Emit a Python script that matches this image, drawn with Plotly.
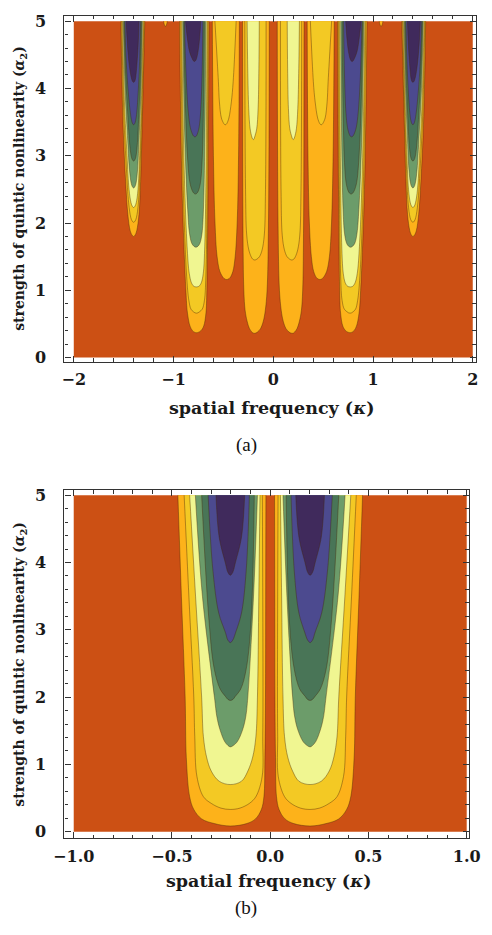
import plotly.graph_objects as go

# ---------------- data ----------------
# level colours, outermost (lowest gain contour) to innermost
LEVEL_COLORS = ["#FDB21A", "#F3C924", "#F0F691", "#6C9C6A", "#497557", "#4C4A8F", "#402A5C"]
BACKGROUND_COLOR = "#CC5014"

# plotted domain of the data (kappa, alpha2)
A_KAPPA = [-2.0, 2.0]
B_KAPPA = [-1.0, 1.0]
ALPHA = [0.0, 5.0]

# each lobe: list of contour levels (outer -> inner); each level is a list of
# rows [alpha2, kappa_left, kappa_right] from the top of the plot down to the tip.
# Lobes in panel (a) (positive-kappa side; mirrored for negative kappa)
A_LOBE_140 = [
    [[5.0, 1.288, 1.528], [3.46, 1.314, 1.506], [2.62, 1.330, 1.480], [2.13, 1.346, 1.458], [1.89, 1.368, 1.435], [1.823, 1.384, 1.417], [1.80, 1.400, 1.400]],
    [[5.0, 1.296, 1.520], [3.60, 1.318, 1.498], [2.80, 1.336, 1.472], [2.30, 1.352, 1.450], [2.08, 1.372, 1.428], [2.028, 1.386, 1.414], [2.01, 1.400, 1.400]],
    [[5.0, 1.304, 1.512], [3.80, 1.322, 1.492], [3.00, 1.340, 1.466], [2.50, 1.356, 1.446], [2.30, 1.374, 1.426], [2.248, 1.387, 1.413], [2.23, 1.400, 1.400]],
    [[5.0, 1.312, 1.504], [4.00, 1.326, 1.486], [3.30, 1.344, 1.462], [2.80, 1.360, 1.442], [2.59, 1.376, 1.424], [2.538, 1.388, 1.412], [2.52, 1.400, 1.400]],
    [[5.0, 1.320, 1.496], [4.20, 1.332, 1.480], [3.60, 1.348, 1.458], [3.15, 1.364, 1.438], [2.98, 1.378, 1.422], [2.935, 1.389, 1.411], [2.92, 1.400, 1.400]],
    [[5.0, 1.330, 1.488], [4.40, 1.340, 1.474], [3.95, 1.354, 1.454], [3.65, 1.368, 1.434], [3.52, 1.380, 1.420], [3.475, 1.390, 1.410], [3.46, 1.400, 1.400]],
    [[5.0, 1.345, 1.475], [4.60, 1.356, 1.460], [4.30, 1.370, 1.440], [4.14, 1.382, 1.420], [4.102, 1.391, 1.410], [4.09, 1.400, 1.400]],
]
A_LOBE_078 = [
    [[5.0, 0.644, 0.940], [2.50, 0.654, 0.914], [1.00, 0.666, 0.876], [0.66, 0.675, 0.860], [0.47, 0.697, 0.835], [0.40, 0.725, 0.810], [0.378, 0.748, 0.790], [0.37, 0.770, 0.770]],
    [[5.0, 0.655, 0.928], [2.50, 0.663, 0.902], [1.20, 0.676, 0.868], [0.85, 0.690, 0.846], [0.72, 0.712, 0.825], [0.68, 0.740, 0.800], [0.665, 0.755, 0.785], [0.66, 0.770, 0.770]],
    [[5.0, 0.665, 0.918], [2.80, 0.674, 0.893], [1.60, 0.688, 0.862], [1.25, 0.702, 0.842], [1.11, 0.722, 0.820], [1.06, 0.745, 0.797], [1.053, 0.758, 0.785], [1.05, 0.772, 0.772]],
    [[5.0, 0.676, 0.908], [3.20, 0.686, 0.886], [2.20, 0.700, 0.858], [1.85, 0.714, 0.840], [1.70, 0.735, 0.818], [1.655, 0.755, 0.796], [1.64, 0.775, 0.775]],
    [[5.0, 0.690, 0.898], [3.70, 0.700, 0.880], [2.90, 0.714, 0.856], [2.60, 0.730, 0.836], [2.48, 0.750, 0.812], [2.443, 0.765, 0.796], [2.43, 0.780, 0.780]],
    [[5.0, 0.705, 0.890], [4.20, 0.714, 0.874], [3.65, 0.728, 0.852], [3.42, 0.744, 0.832], [3.32, 0.762, 0.810], [3.29, 0.773, 0.797], [3.28, 0.785, 0.785]],
    [[5.0, 0.726, 0.880], [4.75, 0.738, 0.862], [4.55, 0.754, 0.840], [4.44, 0.770, 0.812], [4.41, 0.780, 0.801], [4.40, 0.790, 0.790]],
]
A_LOBE_047 = [
    [[5.0, 0.340, 0.611], [3.00, 0.348, 0.600], [2.00, 0.362, 0.584], [1.50, 0.382, 0.563], [1.28, 0.405, 0.535], [1.19, 0.432, 0.502], [1.168, 0.450, 0.485], [1.16, 0.467, 0.467]],
    [[5.0, 0.372, 0.585], [4.10, 0.402, 0.550], [3.80, 0.420, 0.540], [3.56, 0.445, 0.520], [3.48, 0.465, 0.497], [3.465, 0.473, 0.489], [3.46, 0.481, 0.481]],
]
A_LOBE_019 = [
    [[5.0, 0.040, 0.308], [2.00, 0.048, 0.304], [1.00, 0.062, 0.295], [0.70, 0.080, 0.282], [0.54, 0.100, 0.262], [0.43, 0.128, 0.238], [0.38, 0.158, 0.215], [0.365, 0.175, 0.204], [0.36, 0.190, 0.190]],
    [[5.0, 0.072, 0.285], [2.50, 0.078, 0.278], [1.82, 0.090, 0.266], [1.60, 0.112, 0.245], [1.50, 0.138, 0.222], [1.463, 0.164, 0.206], [1.45, 0.185, 0.185]],
    [[5.0, 0.140, 0.262], [4.30, 0.144, 0.256], [3.70, 0.152, 0.246], [3.40, 0.166, 0.232], [3.28, 0.186, 0.215], [3.25, 0.193, 0.207], [3.24, 0.200, 0.200]],
]
A_LOBE_108 = [
    [[5.0, 1.062, 1.100], [4.95, 1.070, 1.092], [4.92, 1.081, 1.081]],
]
# Lobe in panel (b) (negative-kappa side; mirrored for positive kappa)
B_LOBE_020 = [
    [[5.0, -0.470, -0.022], [3.5, -0.452, -0.023], [2.0, -0.433, -0.024], [1.1, -0.427, -0.027], [0.52, -0.410, -0.032], [0.33, -0.389, -0.045], [0.19, -0.349, -0.075], [0.12, -0.284, -0.120], [0.084, -0.203, -0.203]],
    [[5.0, -0.438, -0.040], [3.5, -0.414, -0.038], [2.0, -0.389, -0.037], [1.41, -0.384, -0.038], [0.82, -0.373, -0.041], [0.52, -0.340, -0.073], [0.42, -0.300, -0.106], [0.35, -0.251, -0.154], [0.33, -0.203, -0.203]],
    [[5.0, -0.410, -0.052], [3.5, -0.380, -0.058], [2.0, -0.349, -0.065], [1.41, -0.340, -0.073], [1.11, -0.324, -0.089], [0.90, -0.300, -0.114], [0.75, -0.260, -0.146], [0.70, -0.203, -0.203]],
    [[5.0, -0.381, -0.065], [3.5, -0.345, -0.085], [2.0, -0.284, -0.114], [1.70, -0.271, -0.125], [1.51, -0.255, -0.141], [1.34, -0.232, -0.167], [1.28, -0.215, -0.188], [1.26, -0.203, -0.203]],
    [[5.0, -0.349, -0.081], [3.15, -0.312, -0.097], [2.42, -0.285, -0.122], [2.12, -0.255, -0.150], [2.01, -0.228, -0.178], [1.965, -0.215, -0.190], [1.95, -0.203, -0.203]],
    [[5.0, -0.316, -0.106], [3.89, -0.292, -0.122], [3.25, -0.262, -0.146], [2.96, -0.228, -0.176], [2.85, -0.216, -0.190], [2.81, -0.203, -0.203]],
    [[5.0, -0.276, -0.130], [4.38, -0.260, -0.146], [3.99, -0.228, -0.178], [3.855, -0.2155, -0.1905], [3.81, -0.203, -0.203]],
]

A_XTICKS = [-2, -1, 0, 1, 2]
A_XTICKTEXT = ["\u22122", "\u22121", "0", "1", "2"]
B_XTICKS = [-1.0, -0.5, 0.0, 0.5, 1.0]
B_XTICKTEXT = ["\u22121.0", "\u22120.5", "0.0", "0.5", "1.0"]
YTICKS = [0, 1, 2, 3, 4, 5]
YTICKTEXT = ["0", "1", "2", "3", "4", "5"]

XTITLE = "spatial frequency (<i>\u03ba</i>)"
YTITLE = "strength of quintic nonlinearity (<i>\u03b1</i><sub>2</sub>)"

# ---------------- figure ----------------
W, H = 492, 935
fig = go.Figure()
LINE_COL = "rgba(70,40,10,0.45)"


def add_background(kr, xa, ya):
    fig.add_trace(go.Scatter(
        x=[kr[0], kr[1], kr[1], kr[0], kr[0]],
        y=[ALPHA[0], ALPHA[0], ALPHA[1], ALPHA[1], ALPHA[0]],
        mode="lines", fill="toself", fillcolor=BACKGROUND_COLOR,
        line=dict(width=0), xaxis=xa, yaxis=ya, hoverinfo="skip", showlegend=False))


def add_lobe(levels, sign, xa, ya):
    for i, rows in enumerate(levels):
        al = [r[0] for r in rows]
        kl = [r[1] for r in rows]
        kr = [r[2] for r in rows]
        xs = kl + kr[::-1][1:]
        ys = al + al[::-1][1:]
        xs = [sign * v for v in xs]
        fig.add_trace(go.Scatter(
            x=xs, y=ys, mode="lines", fill="toself", fillcolor=LEVEL_COLORS[i],
            line=dict(color=LINE_COL, width=0.9, shape="spline", smoothing=1.0),
            xaxis=xa, yaxis=ya, hoverinfo="skip", showlegend=False))


add_background(A_KAPPA, "x", "y")
for lobe in [A_LOBE_140, A_LOBE_078, A_LOBE_047, A_LOBE_019, A_LOBE_108]:
    add_lobe(lobe, 1, "x", "y")
    add_lobe(lobe, -1, "x", "y")

add_background(B_KAPPA, "x2", "y2")
add_lobe(B_LOBE_020, 1, "x2", "y2")
add_lobe(B_LOBE_020, -1, "x2", "y2")

TICKFONT = dict(family="DejaVu Serif", size=16, color="#1a1a1a", weight="bold")


def axis_common():
    return dict(showline=True, linecolor="#333333", linewidth=1.2, mirror="allticks",
                ticks="inside", ticklen=6, tickwidth=1, tickcolor="#333333",
                showgrid=False, zeroline=False, tickfont=TICKFONT)


MINOR = dict(ticks="inside", ticklen=3.5, tickcolor="#333333", showgrid=False, tick0=0)

ax_a = axis_common()
ax_a.update(domain=[56 / W, 486.5 / W], range=[-2.093, 2.030], tickmode="array",
            tickvals=A_XTICKS, ticktext=A_XTICKTEXT, anchor="y", ticklabelstandoff=3,
            minor=dict(MINOR, dtick=0.2))
ay_a = axis_common()
ay_a.update(domain=[1 - 361.5 / H, 1 - 12 / H], range=[-0.066, 5.078], tickmode="array",
            tickvals=YTICKS, ticktext=YTICKTEXT, anchor="x", ticklabelstandoff=14,
            minor=dict(MINOR, dtick=0.2))
ax_b = axis_common()
ax_b.update(domain=[56 / W, 479.5 / W], range=[-1.047, 1.012], tickmode="array",
            tickvals=B_XTICKS, ticktext=B_XTICKTEXT, anchor="y2", ticklabelstandoff=3,
            minor=dict(MINOR, dtick=0.1))
ay_b = axis_common()
ay_b.update(domain=[1 - 842.5 / H, 1 - 490.7 / H], range=[-0.10, 5.078], tickmode="array",
            tickvals=YTICKS, ticktext=YTICKTEXT, anchor="x2", ticklabelstandoff=14,
            minor=dict(MINOR, dtick=0.2))

TITLEFONT = dict(family="DejaVu Serif", size=17.5, color="#1a1a1a", weight="bold")
YTITLEFONT = dict(family="DejaVu Serif", size=14, color="#1a1a1a", weight="bold")
CAPFONT = dict(family="Liberation Serif", size=19, color="#111111")


def ann(text, px, py, font, angle=0):
    return dict(text=text, x=px / W, y=1 - py / H, xref="paper", yref="paper",
                showarrow=False, font=font, textangle=angle, xanchor="center", yanchor="middle")


annotations = [
    ann(XTITLE, 273.5, 408, TITLEFONT),
    ann("(a)", 246.5, 445, CAPFONT),
    ann(YTITLE, 10, 186, YTITLEFONT, -90),
    ann(XTITLE, 270, 886, TITLEFONT),
    ann("(b)", 246.5, 913, CAPFONT),
    ann(YTITLE, 10, 666.5, YTITLEFONT, -90),
]

fig.update_layout(
    width=W, height=H, margin=dict(l=0, r=0, t=0, b=0),
    paper_bgcolor="white", plot_bgcolor="white",
    xaxis=ax_a, yaxis=ay_a, xaxis2=ax_b, yaxis2=ay_b,
    annotations=annotations, showlegend=False,
)

fig.write_html("out.html")
